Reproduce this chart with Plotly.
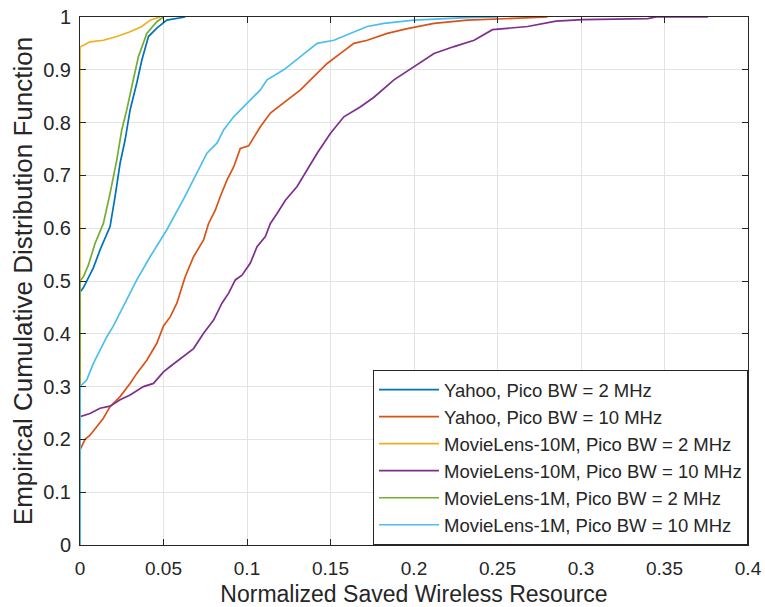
import plotly.graph_objects as go

# ---- data ----
yahoo2_x = [0, 0, 0.002, 0.004, 0.008, 0.012, 0.015, 0.018, 0.021, 0.024, 0.027, 0.030, 0.034, 0.037, 0.041, 0.046, 0.052, 0.058, 0.063]
yahoo2_y = [0, 0.479, 0.487, 0.499, 0.525, 0.559, 0.58, 0.603, 0.66, 0.723, 0.767, 0.824, 0.875, 0.918, 0.963, 0.979, 0.994, 0.998, 1.0]

yahoo10_x = [0, 0, 0.003, 0.006, 0.010, 0.014, 0.018, 0.024, 0.030, 0.034, 0.040, 0.046, 0.050, 0.054, 0.058, 0.063, 0.068,
             0.074, 0.077, 0.081, 0.084, 0.088, 0.092, 0.096, 0.101, 0.108, 0.114, 0.122, 0.132, 0.138, 0.148, 0.156, 0.164,
             0.172, 0.184, 0.196, 0.212, 0.232, 0.252, 0.28]
yahoo10_y = [0, 0.18, 0.20, 0.208, 0.224, 0.24, 0.262, 0.281, 0.306, 0.325, 0.35, 0.382, 0.415, 0.432, 0.458, 0.508, 0.546,
             0.578, 0.609, 0.634, 0.66, 0.691, 0.716, 0.751, 0.756, 0.792, 0.818, 0.837, 0.862, 0.881, 0.912, 0.931, 0.95,
             0.956, 0.969, 0.978, 0.988, 0.994, 0.997, 1.0]

ml10m2_x = [0, 0, 0.003, 0.006, 0.014, 0.022, 0.030, 0.037, 0.042, 0.048]
ml10m2_y = [0, 0.943, 0.948, 0.953, 0.956, 0.963, 0.972, 0.982, 0.994, 1.0]

ml10m10_x = [0, 0, 0.006, 0.012, 0.018, 0.024, 0.030, 0.038, 0.044, 0.050, 0.054, 0.060, 0.068, 0.074, 0.080, 0.085, 0.089,
             0.093, 0.097, 0.102, 0.106, 0.111, 0.114, 0.118, 0.123, 0.130, 0.136, 0.142, 0.150, 0.158, 0.168, 0.176, 0.188,
             0.200, 0.212, 0.224, 0.236, 0.247, 0.268, 0.285, 0.301, 0.340, 0.345, 0.376]
ml10m10_y = [0, 0.243, 0.249, 0.259, 0.263, 0.275, 0.284, 0.300, 0.306, 0.328, 0.338, 0.353, 0.372, 0.401, 0.426, 0.458, 0.477,
             0.502, 0.511, 0.534, 0.565, 0.584, 0.609, 0.628, 0.653, 0.679, 0.71, 0.742, 0.78, 0.811, 0.83, 0.848, 0.881,
             0.906, 0.931, 0.944, 0.956, 0.976, 0.982, 0.992, 0.995, 0.997, 1.0, 1.0]

ml1m2_x = [0, 0, 0.002, 0.005, 0.009, 0.014, 0.018, 0.022, 0.025, 0.028, 0.031, 0.035, 0.040, 0.046, 0.050]
ml1m2_y = [0, 0.5, 0.508, 0.53, 0.571, 0.609, 0.666, 0.729, 0.786, 0.824, 0.868, 0.925, 0.969, 0.991, 1.0]

ml1m10_x = [0, 0, 0.002, 0.004, 0.008, 0.012, 0.016, 0.020, 0.026, 0.034, 0.042, 0.052, 0.062, 0.070, 0.076, 0.082, 0.086,
            0.092, 0.100, 0.108, 0.112, 0.122, 0.132, 0.142, 0.152, 0.162, 0.172, 0.182, 0.200, 0.232, 0.25]
ml1m10_y = [0, 0.30, 0.306, 0.3125, 0.344, 0.369, 0.394, 0.415, 0.451, 0.502, 0.546, 0.597, 0.655, 0.704, 0.742, 0.761, 0.786,
            0.811, 0.837, 0.862, 0.881, 0.900, 0.925, 0.950, 0.956, 0.969, 0.982, 0.988, 0.994, 0.999, 1.0]

series_names = ["Yahoo, Pico BW = 2 MHz", "Yahoo, Pico BW = 10 MHz",
                "MovieLens-10M, Pico BW = 2 MHz", "MovieLens-10M, Pico BW = 10 MHz",
                "MovieLens-1M, Pico BW = 2 MHz", "MovieLens-1M, Pico BW = 10 MHz"]
series_x = [yahoo2_x, yahoo10_x, ml10m2_x, ml10m10_x, ml1m2_x, ml1m10_x]
series_y = [yahoo2_y, yahoo10_y, ml10m2_y, ml10m10_y, ml1m2_y, ml1m10_y]
colors = ["#0072BD", "#D95319", "#EDB120", "#7E2F8E", "#77AC30", "#4DBEEE"]

x_ticks = [0, 0.05, 0.1, 0.15, 0.2, 0.25, 0.3, 0.35, 0.4]
x_labels = ["0", "0.05", "0.1", "0.15", "0.2", "0.25", "0.3", "0.35", "0.4"]
y_ticks = [0, 0.1, 0.2, 0.3, 0.4, 0.5, 0.6, 0.7, 0.8, 0.9, 1]
y_labels = ["0", "0.1", "0.2", "0.3", "0.4", "0.5", "0.6", "0.7", "0.8", "0.9", "1"]

fig = go.Figure()
for name, xs, ys, c in zip(series_names, series_x, series_y, colors):
    fig.add_trace(go.Scatter(x=xs, y=ys, mode="lines", name=name,
                             line=dict(color=c, width=1.7)))

regular = "Arial"
axis_col = "#262626"

fig.update_layout(
    width=765, height=607,
    margin=dict(l=80, r=17, t=17, b=62, autoexpand=False),
    paper_bgcolor="white", plot_bgcolor="white",
    showlegend=True,
    legend=dict(x=1, y=0, xanchor="right", yanchor="bottom",
                bgcolor="white", bordercolor=axis_col, borderwidth=1,
                font=dict(family=regular, size=18.5, color=axis_col),
                tracegroupgap=0, itemwidth=60),
    font=dict(family=regular, color=axis_col),
)
fig.update_xaxes(range=[0, 0.4], tickvals=x_ticks, ticktext=x_labels, automargin=False,
                 showline=True, linecolor=axis_col, linewidth=1, mirror="ticks",
                 ticks="inside", ticklen=6, tickcolor=axis_col,
                 showgrid=True, gridcolor="#e3e3e3", gridwidth=1, zeroline=False,
                 tickfont=dict(family=regular, size=19, color=axis_col), ticklabelstandoff=6,
                 title=dict(text="Normalized Saved Wireless Resource",
                            font=dict(family=regular, size=23, color=axis_col), standoff=10))
fig.update_yaxes(range=[0, 1], tickvals=y_ticks, ticktext=y_labels, automargin=False,
                 showline=True, linecolor=axis_col, linewidth=1, mirror="ticks",
                 ticks="inside", ticklen=6, tickcolor=axis_col,
                 showgrid=True, gridcolor="#e3e3e3", gridwidth=1, zeroline=False,
                 tickfont=dict(family=regular, size=20, color=axis_col), ticklabelstandoff=4,
                 title=dict(text="Empirical Cumulative Distribution Function",
                            font=dict(family=regular, size=26, color=axis_col), standoff=3))

fig.write_html("out.html")
